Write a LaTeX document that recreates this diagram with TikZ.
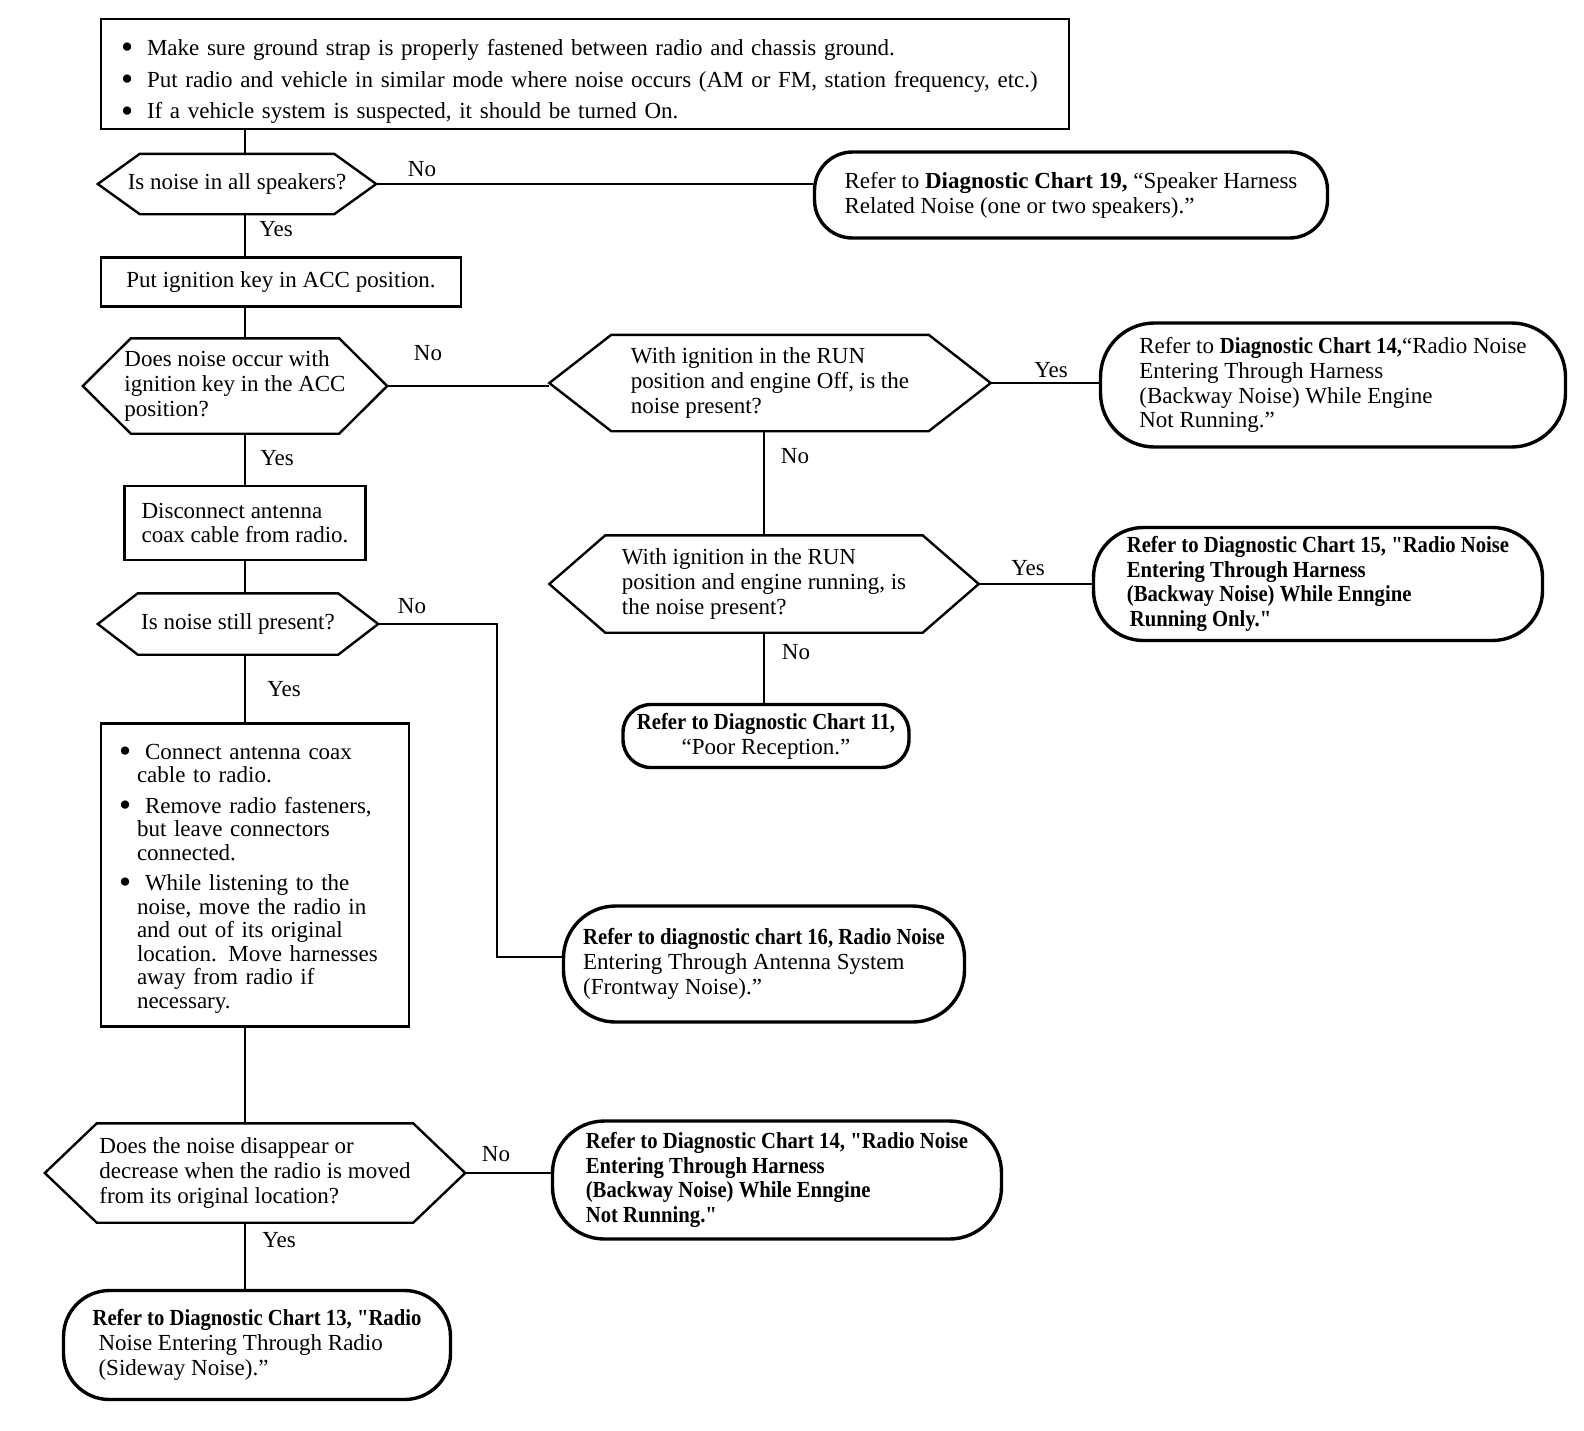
\documentclass[tikz,border=0pt]{standalone}
\usepackage{fontspec}
\setmainfont{Liberation Serif}
\newfontfamily\condfont[FakeStretch=0.9]{Liberation Serif}
\usetikzlibrary{calc, positioning}
\tikzset{
  box/.style={rectangle, draw, line width=2.4pt, align=left, inner sep=0pt},
  decision/.style={rectangle, align=left, inner sep=0pt},
  hexline/.style={line width=2.4pt, line join=miter},
  refer/.style={rectangle, draw, line width=3.4pt, align=left, inner sep=0pt},
  link/.style={line width=1.6pt},
  lbl/.style={inner sep=1pt}
}
\newcommand{\bul}{\makebox[26pt][l]{\raisebox{-0.14em}{\scalebox{1.5}{\textbullet}}}}
\newcommand{\ind}{\hspace*{18pt}}
\newcommand{\cb}[1]{{\condfont\bfseries #1}}

\begin{document}
\begin{tikzpicture}[x=1pt, y=-1pt, font=\fontsize{23}{24.8}\selectfont]
  \useasboundingbox (0,0) rectangle (1584,1430);
  \coordinate (spine) at (245,0);

  % left column
  \node[box, text width=928pt, inner xsep=20pt, minimum height=110pt] (notes) at (585,74)
    {\rule{0pt}{31pt}\bul Make sure ground strap is properly fastened between radio and chassis ground.\\[7pt]
     \bul Put radio and vehicle in similar mode where noise occurs (AM or FM, station frequency, etc.)\\[7pt]
     \bul If a vehicle system is suspected, it should be turned On.};
  \node[decision, minimum width=278pt, minimum height=60pt] (qall) at (237,184) {Is noise in all speakers?};
  \node[box, minimum width=360pt, minimum height=49pt] (acc) at (281,282) {Put ignition key in ACC position.};
  \node[decision, minimum width=304pt, minimum height=95pt] (qacc) at (235,386)
    {Does noise occur with\\ignition key in the ACC\\position?};
  \node[box, minimum width=241pt, minimum height=74pt] (disc) at (245,523)
    {Disconnect antenna\\coax cable from radio.};
  \node[decision, minimum width=280pt, minimum height=61pt] (qstill) at (238,624) {Is noise still present?};
  \node[box, text width=272pt, inner xsep=18pt, minimum height=303pt, font=\fontsize{23}{23.5}\selectfont] (steps) at (255,875)
    {\rule{0pt}{22pt}\bul Connect antenna coax\\ \ind cable to radio.\\[7pt]
     \bul Remove radio fasteners,\\ \ind but leave connectors\\ \ind connected.\\[7pt]
     \bul While listening to the\\ \ind noise, move the radio in\\ \ind and out of its original\\
     \ind location. Move harnesses\\ \ind away from radio if\\ \ind necessary.};
  \node[decision, minimum width=420pt, minimum height=99pt] (qmove) at (255,1173)
    {Does the noise disappear or\\decrease when the radio is moved\\from its original location?};
  \node[refer, minimum width=387pt, minimum height=109pt, rounded corners=46pt] (r13) at (257,1345)
    {\cb{Refer to Diagnostic Chart 13, "Radio}\\\hspace*{6pt}Noise Entering Through Radio\\\hspace*{6pt}(Sideway Noise).”};

  % right side
  \node[decision, minimum width=441pt, minimum height=96pt] (qoff) at (770,383)
    {With ignition in the RUN\\position and engine Off, is the\\noise present?};
  \node[decision, minimum width=429pt, minimum height=97pt] (qrun) at (764,584)
    {With ignition in the RUN\\position and engine running, is\\the noise present?};
  \node[refer, minimum width=513pt, minimum height=86pt, rounded corners=38pt] (r19) at (1071,195)
    {Refer to \textbf{Diagnostic Chart 19,} “Speaker Harness\\Related Noise (one or two speakers).”};
  \node[refer, minimum width=465pt, minimum height=124pt, rounded corners=54pt] (r14a) at (1333,385)
    {Refer to \cb{Diagnostic Chart 14,}“Radio Noise\\Entering Through Harness\\(Backway Noise) While Engine\\Not Running.”};
  \node[refer, minimum width=449pt, minimum height=113pt, rounded corners=50pt] (r15) at (1318,584)
    {\cb{Refer to Diagnostic Chart 15, "Radio Noise}\\\cb{Entering Through Harness}\\\cb{(Backway Noise) While Enngine}\\\hspace*{3pt}\cb{Running Only."}};
  \node[refer, minimum width=286pt, minimum height=63pt, rounded corners=28pt, align=center] (r11) at (766,736)
    {\cb{Refer to Diagnostic Chart 11,}\\“Poor Reception.”};
  \node[refer, minimum width=401pt, minimum height=116pt, rounded corners=52pt] (r16) at (764,964)
    {\cb{Refer to diagnostic chart 16, Radio Noise}\\Entering Through Antenna System\\(Frontway Noise).”};
  \node[refer, minimum width=449pt, minimum height=118pt, rounded corners=52pt] (r14b) at (777,1180)
    {\cb{Refer to Diagnostic Chart 14, "Radio Noise}\\\cb{Entering Through Harness}\\\cb{(Backway Noise) While Enngine}\\\cb{Not Running."}};

  % hexagon outlines
  \foreach \n/\d in {qall/42, qacc/48, qoff/62, qrun/56, qstill/40, qmove/52}
    \draw[hexline] (\n.west) -- ($(\n.north west)+(\d,0)$) -- ($(\n.north east)-(\d,0)$) -- (\n.east)
      -- ($(\n.south east)-(\d,0)$) -- ($(\n.south west)+(\d,0)$) -- cycle;

  % connectors
  \draw[link] (notes.south -| spine) -- (qall.north -| spine);
  \draw[link] (qall.south -| spine) -- (acc.north -| spine);
  \draw[link] (acc.south -| spine) -- (qacc.north -| spine);
  \draw[link] (qacc.south -| spine) -- (disc.north -| spine);
  \draw[link] (disc.south -| spine) -- (qstill.north -| spine);
  \draw[link] (qstill.south -| spine) -- (steps.north -| spine);
  \draw[link] (steps.south -| spine) -- (qmove.north -| spine);
  \draw[link] (qmove.south -| spine) -- (r13.north -| spine);
  \draw[link] (qall.east) -- (qall.east -| r19.west);
  \draw[link] (qacc.east) -- (qacc.east -| qoff.west);
  \draw[link] (qoff.east) -- (qoff.east -| r14a.west);
  \draw[link] (qrun.north |- qoff.south) -- (qrun.north);
  \draw[link] (qrun.east) -- (qrun.east -| r15.west);
  \draw[link] (qrun.south) -- (qrun.south |- r11.north);
  \draw[link] (qstill.east) -- ++(119,0) |- ($(r16.west)+(0,-7)$);
  \draw[link] (qmove.east) -- (qmove.east -| r14b.west);

  % yes / no labels
  \node[lbl] (no1) at (422,169) {No};
  \node[lbl] (yes1) at (276,229) {Yes};
  \node[lbl] (no2) at (428,353) {No};
  \node[lbl] (yes2) at (277,458) {Yes};
  \node[lbl] (yes3) at (1051,370) {Yes};
  \node[lbl] (no3) at (795,456) {No};
  \node[lbl] (yes4) at (1028,568) {Yes};
  \node[lbl] (no4) at (796,652) {No};
  \node[lbl] (no5) at (412,606) {No};
  \node[lbl] (yes5) at (284,689) {Yes};
  \node[lbl] (no6) at (496,1154) {No};
  \node[lbl] (yes6) at (279,1240) {Yes};
\end{tikzpicture}
\end{document}
